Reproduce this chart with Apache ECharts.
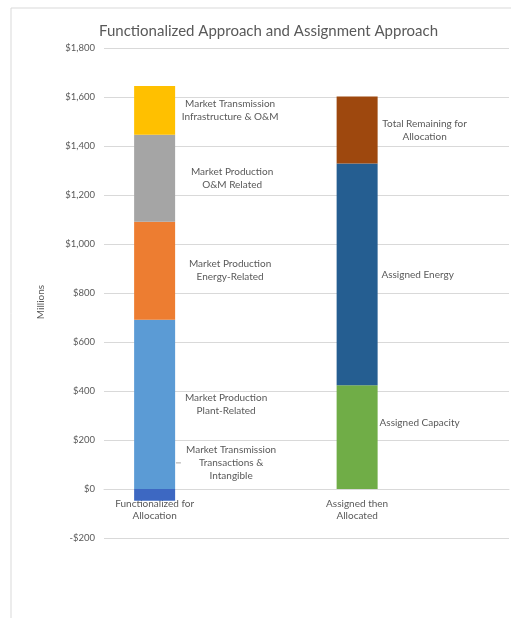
<!DOCTYPE html>
<html>
<head>
<meta charset="utf-8">
<script src="https://cdn.jsdelivr.net/npm/echarts@6/dist/echarts.min.js"></script>
<style>
  html, body { margin: 0; padding: 0; background: #fff; }
  #chart { width: 511px; height: 618px; }
</style>
</head>
<body>
<div id="chart"></div>
<script>
// two real bars; the blank categories only reproduce Excel's spacing
const categories = ["Functionalized for\nAllocation", "", "Assigned then\nAllocated", ""];

const transTransactions = [-48, "-", "-", "-"];
const plantRelated = [691, "-", "-", "-"];
const energyRelated = [400, "-", "-", "-"];
const omRelated = [355, "-", "-", "-"];
const transInfra = [199, "-", "-", "-"];

const assignedCapacity = ["-", "-", 423, "-"];
const assignedEnergy = ["-", "-", 906, "-"];
const totalRemaining = ["-", "-", 273, "-"];

const yTicks = { min: -200, max: 1800, interval: 200 };

const textColor = "#595959";
const fontFamily = "Lato, 'Open Sans', sans-serif";

const chart = echarts.init(document.getElementById("chart"));

function makeSeries(name, data, color, labelText, dx) {
    return {
        name: name,
        type: "bar",
        stack: "total",
        barWidth: 41,
        data: data,
        itemStyle: { color: color },
        label: {
            show: true,
            position: [dx, "50%"],
            align: "center",
            verticalAlign: "middle",
            formatter: labelText,
            color: textColor,
            fontFamily: fontFamily,
            fontSize: 10,
            lineHeight: 13,
        },
    };
}

const option = {
    animation: false,
    title: {
        text: "Functionalized Approach and Assignment Approach",
        left: 94,
        top: 19,
        textStyle: { color: textColor, fontFamily: fontFamily, fontSize: 15, fontWeight: "normal" },
    },
    graphic: [
        {
            type: "rect",
            shape: { x: 11, y: 8, width: 520, height: 640 },
            style: { fill: "none", stroke: "#d9d9d9", lineWidth: 1 },
            silent: true,
        },
    ],
    grid: { left: 104, right: 2, top: 48, bottom: 80 },
    xAxis: {
        type: "category",
        data: categories,
        // sit the category axis on the $0 line (one 200 step above the bottom)
        offset: -49,
        axisTick: { show: false },
        axisLine: { onZero: false, lineStyle: { color: "#d9d9d9" } },
        axisLabel: {
            color: textColor,
            fontFamily: fontFamily,
            fontSize: 10,
            lineHeight: 12,
            margin: 9,
            interval: 0,
        },
    },
    yAxis: {
        type: "value",
        min: yTicks.min,
        max: yTicks.max,
        interval: yTicks.interval,
        name: "Millions",
        nameLocation: "middle",
        nameGap: 58,
        nameTextStyle: { color: textColor, fontFamily: fontFamily, fontSize: 10, padding: [0, 0, 0, -18] },
        axisLine: { show: false },
        axisTick: { show: false },
        axisLabel: {
            color: textColor,
            fontFamily: fontFamily,
            fontSize: 9.5,
            margin: 9,
            formatter: (v) => (v < 0 ? "-$" : "$") + Math.abs(v).toLocaleString("en-US"),
        },
        splitLine: { lineStyle: { color: "#d9d9d9" } },
    },
    series: [
        makeSeries("Market Transmission Transactions & Intangible", transTransactions, "#3d68c2",
            "Market Transmission\n{t|}{s|}Transactions &{p|}\nIntangible", 97),
        makeSeries("Market Production Plant-Related", plantRelated, "#5b9bd5",
            "Market Production\nPlant-Related", 92),
        makeSeries("Market Production Energy-Related", energyRelated, "#ed7d31",
            "Market Production\nEnergy-Related", 96),
        makeSeries("Market Production O&M Related", omRelated, "#a5a5a5",
            "Market Production\nO&M Related", 98),
        makeSeries("Market Transmission Infrastructure & O&M", transInfra, "#ffc000",
            "Market Transmission\nInfrastructure & O&M", 96),
        makeSeries("Assigned Capacity", assignedCapacity, "#70ad47",
            "Assigned Capacity", 83),
        makeSeries("Assigned Energy", assignedEnergy, "#255e91",
            "Assigned Energy", 81),
        makeSeries("Total Remaining for Allocation", totalRemaining, "#9e480e",
            "Total Remaining for\nAllocation", 88),
    ],
};

// negative piece: label lifted above the bar, with a short leader tick on its middle line
option.series[0].label.offset = [0, -32];
option.series[0].label.rich = {
    t: { width: 5, height: 1, backgroundColor: "#a6a6a6" },
    s: { width: 18 },
    p: { width: 23 },
};
// the capacity label sits a little above the middle of its segment
option.series[5].label.offset = [0, -14];

chart.setOption(option);
window.addEventListener("resize", () => chart.resize());
</script>
</body>
</html>
